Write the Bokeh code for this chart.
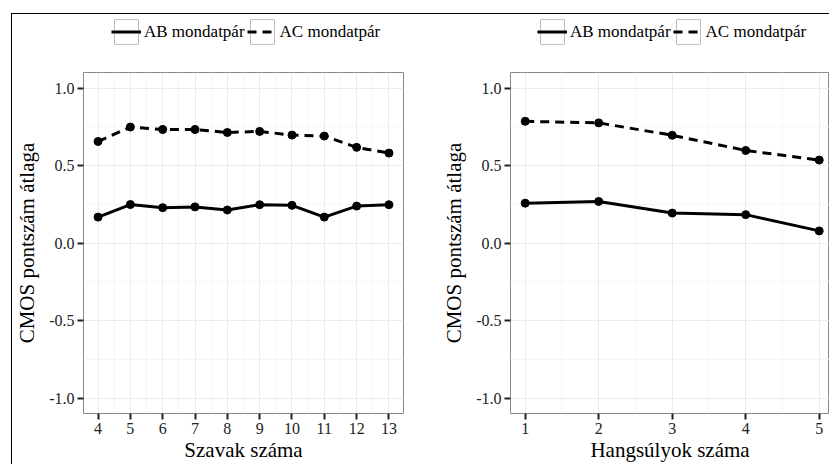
from bokeh.plotting import figure
from bokeh.models import FixedTicker, Legend, LegendItem, Range1d
from bokeh.layouts import row, column
from bokeh.embed import file_html
from bokeh.resources import INLINE

# ---- data ----
words = [4, 5, 6, 7, 8, 9, 10, 11, 12, 13]
ab_words = [0.167, 0.248, 0.228, 0.233, 0.213, 0.247, 0.243, 0.167, 0.238, 0.247]
ac_words = [0.655, 0.748, 0.732, 0.732, 0.713, 0.72, 0.696, 0.69, 0.617, 0.58]

stress = [1, 2, 3, 4, 5]
ab_stress = [0.257, 0.268, 0.193, 0.183, 0.078]
ac_stress = [0.785, 0.775, 0.695, 0.597, 0.535]

y_ticks = [-1.0, -0.5, 0.0, 0.5, 1.0]
y_minor = [-0.75, -0.25, 0.25, 0.75]
series_labels = ["AB mondatpár", "AC mondatpár"]
y_title = "CMOS pontszám átlaga"
x_titles = ["Szavak száma", "Hangsúlyok száma"]

FONT = "Liberation Serif"
DASH = "9 6"


def make_legend_fig(x, ab, ac, width, leg_x):
    lf = figure(width=width, height=57, output_backend="svg", toolbar_location=None,
                x_axis_location=None, y_axis_location=None,
                min_border_left=0, min_border_right=0, min_border_top=0, min_border_bottom=0)
    lf.grid.visible = False
    lf.outline_line_color = None
    lf.background_fill_color = "white"
    lf.border_fill_color = "white"
    # key boxes and key lines (renderers hidden, only used for the legend)
    b1 = lf.quad(left=x[:1], right=x[:1], top=ab[:1], bottom=ab[:1],
                 fill_color="white", line_color="#bdbdbd", line_width=1)
    r1 = lf.line(x, ab, line_color="black", line_width=3)
    b2 = lf.quad(left=x[:1], right=x[:1], top=ac[:1], bottom=ac[:1],
                 fill_color="white", line_color="#bdbdbd", line_width=1)
    r2 = lf.line(x, ac, line_color="black", line_width=3, line_dash=DASH)
    for r in (b1, r1, b2, r2):
        r.visible = False
    leg = Legend(items=[LegendItem(label=series_labels[0], renderers=[b1, r1]),
                        LegendItem(label=series_labels[1], renderers=[b2, r2])],
                 orientation="horizontal", location=(leg_x, 24),
                 glyph_width=30, glyph_height=31, label_standoff=3, spacing=2,
                 padding=0, margin=0, border_line_color=None,
                 background_fill_alpha=0, inactive_fill_alpha=0,
                 label_text_font=FONT, label_text_font_size="17px",
                 label_text_color="black")
    lf.add_layout(leg, "center")
    return lf


def make_panel(x, ab, ac, xlabel, xr, width, min_left, min_right):
    p = figure(width=width, height=393, output_backend="svg", toolbar_location=None,
               x_range=Range1d(*xr), y_range=Range1d(-1.1, 1.1),
               min_border_left=min_left, min_border_right=min_right,
               min_border_top=1, min_border_bottom=50)
    p.background_fill_color = "white"
    p.border_fill_color = "white"
    p.outline_line_color = "#8a8a8a"
    p.outline_line_width = 1

    xt = FixedTicker(ticks=list(x), minor_ticks=[v + 0.5 for v in x[:-1]])
    yt = FixedTicker(ticks=y_ticks, minor_ticks=y_minor)
    p.xaxis.ticker = xt
    p.yaxis.ticker = yt
    p.xgrid.ticker = xt
    p.ygrid.ticker = yt
    for g in (p.xgrid, p.ygrid):
        g.grid_line_color = "#ebebeb"
        g.grid_line_width = 1
        g.minor_grid_line_color = "#f5f5f5"
        g.minor_grid_line_width = 1

    p.yaxis.major_label_overrides = {v: f"{v:.1f}" for v in y_ticks}
    for ax in (p.xaxis, p.yaxis):
        ax.axis_line_color = None
        ax.major_tick_out = 6
        ax.major_tick_in = 0
        ax.minor_tick_out = 0
        ax.minor_tick_in = 0
        ax.major_tick_line_color = "#222222"
        ax.major_tick_line_width = 2
        ax.major_label_text_font = FONT
        ax.major_label_text_font_size = "16px"
        ax.major_label_text_color = "#222222"
        ax.major_label_standoff = 3
        ax.axis_label_text_font = FONT
        ax.axis_label_text_font_size = "21px"
        ax.axis_label_text_font_style = "normal"
        ax.axis_label_text_color = "black"
    p.xaxis.axis_label = xlabel
    p.xaxis.axis_label_standoff = 1
    p.yaxis.axis_label = y_title
    p.yaxis.axis_label_standoff = 7

    p.line(x, ab, line_color="black", line_width=3)
    p.scatter(x, ab, size=8, color="black")
    p.line(x, ac, line_color="black", line_width=3, line_dash=DASH)
    p.scatter(x, ac, size=8, color="black")
    return p


lf1 = make_legend_fig(words, ab_words, ac_words, 420, 28)
p1 = make_panel(words, ab_words, ac_words, x_titles[0], (3.55, 13.45), 420, 67, 29)
lf2 = make_legend_fig(stress, ab_stress, ac_stress, 397, 27)
p2 = make_panel(stress, ab_stress, ac_stress, x_titles[1], (0.8, 5.14), 397, 78, 0)

layout = row(column(lf1, p1), column(lf2, p2), margin=(13, 0, 0, 11),
             styles={"border-top": "1px solid black", "border-left": "1px solid black"})

open("out.html", "w").write(file_html(layout, INLINE))
